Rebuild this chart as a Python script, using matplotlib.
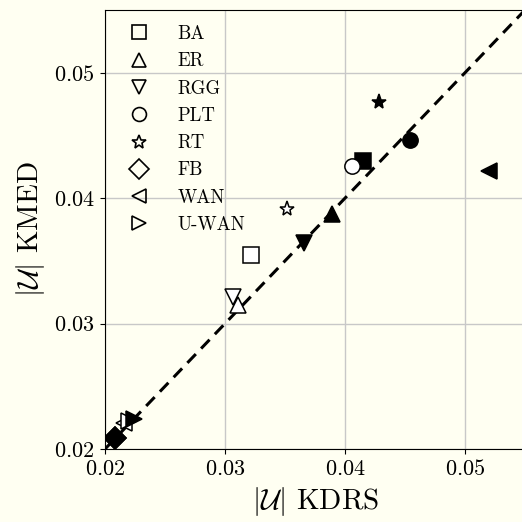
import matplotlib
matplotlib.use("Agg")
import matplotlib.pyplot as plt
from matplotlib.lines import Line2D

plt.rcParams["font.family"] = "serif"
plt.rcParams["font.serif"] = ["cmr10"]
plt.rcParams["mathtext.fontset"] = "cm"
plt.rcParams["axes.formatter.use_mathtext"] = True

graphs = ["BA", "ER", "RGG", "PLT", "RT", "FB", "WAN", "U-WAN"]
markers = ["s", "^", "v", "o", "*", "D", "<", ">"]

# open markers
kdrs_open = [0.0322, 0.0311, 0.0307, 0.0406, 0.0352, 0.0208, 0.0216, 0.0220]
kmed_open = [0.0355, 0.0315, 0.0321, 0.0426, 0.0391, 0.0209, 0.0221, 0.0222]

# filled markers
kdrs_fill = [0.0415, 0.0389, 0.0366, 0.0454, 0.0428, 0.0208, 0.0520, 0.0224]
kmed_fill = [0.0430, 0.0387, 0.0364, 0.0446, 0.0477, 0.0209, 0.0422, 0.0224]

lims = [0.02, 0.055]
bg = "#fffff2"

fig = plt.figure(figsize=(5.22, 5.22), dpi=100, facecolor=bg)
ax = fig.add_axes([105 / 522, 73 / 522, 420 / 522, 439 / 522])
ax.set_facecolor(bg)

ax.plot(lims, lims, color="k", ls=(0, (4, 2.5)), lw=2.2, zorder=2)

for i, m in enumerate(markers):
    ax.plot(kdrs_open[i], kmed_open[i], marker=m, ls="none", ms=11,
            mfc="white", mec="k", mew=1.1, zorder=3)
    ax.plot(kdrs_fill[i], kmed_fill[i], marker=m, ls="none", ms=11,
            mfc="k", mec="k", mew=1.1, zorder=3)

handles = [Line2D([], [], marker=m, ls="none", ms=10,
                  mfc="none", mec="k", mew=1.2) for m in markers]
ax.legend(handles, graphs, loc="upper left", frameon=False, fontsize=13.5,
          handletextpad=1.05, labelspacing=0.5, borderaxespad=0.4,
          borderpad=0.4)

ax.set_xlim(lims)
ax.set_ylim(lims)
ax.set_xticks([0.02, 0.03, 0.04, 0.05])
ax.set_yticks([0.02, 0.03, 0.04, 0.05])
ax.tick_params(labelsize=16, pad=4)
ax.grid(True, color="#c8c8c8", lw=1)
ax.set_axisbelow(True)
ax.set_xlabel(r"$|\mathcal{U}|$ KDRS", fontsize=21, labelpad=4)
ax.set_ylabel(r"$|\mathcal{U}|$ KMED", fontsize=21, labelpad=5)

fig.savefig("out.png", dpi=100, facecolor=bg)
